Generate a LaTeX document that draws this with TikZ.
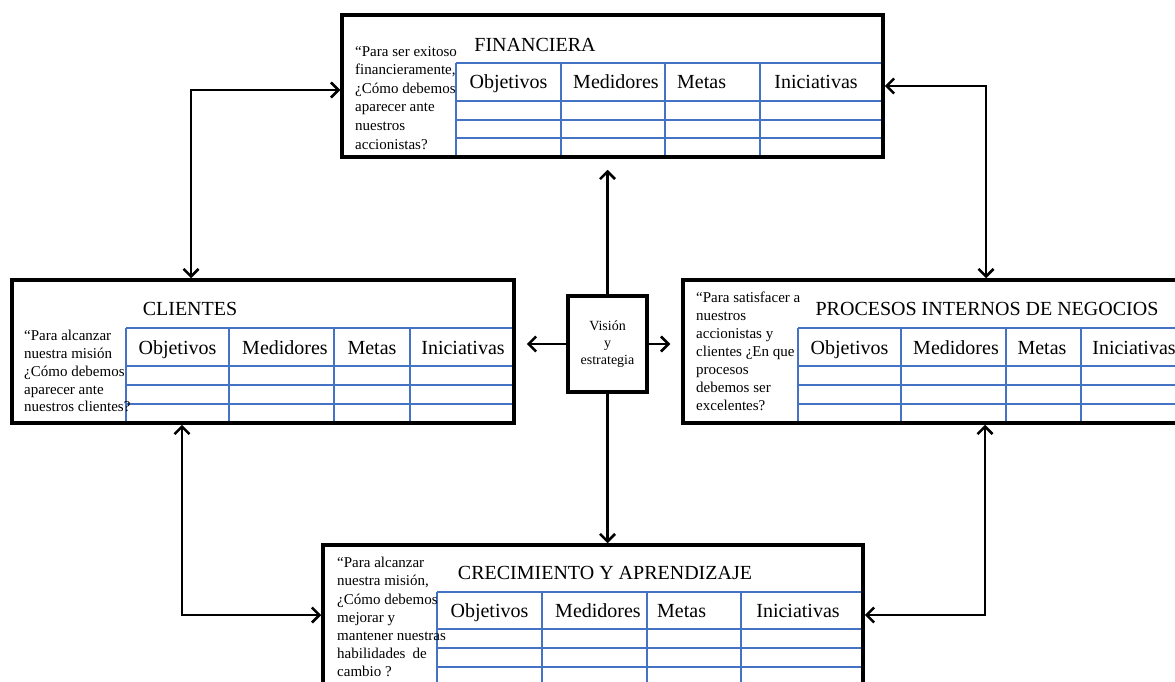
\documentclass[tikz,border=0pt]{standalone}
\usepackage{fontspec}
\setmainfont{Liberation Serif}
\usetikzlibrary{arrows.meta,backgrounds,calc}
\definecolor{tblue}{RGB}{68,114,196}
\begin{document}
\begin{tikzpicture}[x=1pt,y=-1pt,
  box/.style={draw, line width=3.5pt, inner sep=0pt},
  tline/.style={draw=tblue, line width=2pt},
  tip/.tip={Straight Barb[length=7.5pt,width=15pt]},
  conn/.style={line width=2.5pt, tip-tip},
  arr/.style={line width=2.5pt, -tip},
  hdr/.style={font=\fontsize{20}{24}\selectfont, inner sep=0pt, anchor=base},
  ttl/.style={font=\fontsize{20}{24}\selectfont, inner sep=0pt},
  qtext/.style={align=left, inner sep=0pt, anchor=north west}
]
\useasboundingbox (0,0) rectangle (1175,682);

% ---- boxes
\node[box, minimum width=541pt, minimum height=142pt] (F) at (612.5,86) {};
\node[box, minimum width=502pt, minimum height=143pt] (C) at (263,351.5) {};
\node[box, minimum width=502pt, minimum height=143pt] (P) at (934,351.5) {};
\node[box, minimum width=540pt, minimum height=150pt] (G) at (593,620) {};
\node[box, minimum width=79pt, minimum height=96pt, align=center,
      font=\fontsize{14}{17}\selectfont] (V) at (607.5,344) {Visión\\y\\estrategia};

% ---- tables (behind borders)
\begin{scope}[on background layer]
  % Financiera
  \draw[tline] (456,63) -- (883,63);
  \foreach \y in {101,120,138} \draw[tline] (456,\y) -- (883,\y);
  \foreach \x in {456,561,665,760} \draw[tline] (\x,63) -- (\x,157);
  % Clientes
  \draw[tline] (126,328) -- (514,328);
  \foreach \y in {366,385,404} \draw[tline] (126,\y) -- (514,\y);
  \foreach \x in {126,229,334,410} \draw[tline] (\x,328) -- (\x,423);
  % Procesos
  \draw[tline] (798,328) -- (1185,328);
  \foreach \y in {366,385,404} \draw[tline] (798,\y) -- (1185,\y);
  \foreach \x in {798,901,1006,1081} \draw[tline] (\x,328) -- (\x,423);
  % Crecimiento
  \draw[tline] (437,592) -- (863,592);
  \foreach \y in {629,648,667} \draw[tline] (437,\y) -- (863,\y);
  \foreach \x in {437,542,647,741} \draw[tline] (\x,592) -- (\x,695);
\end{scope}

% ---- Financiera texts
\node[ttl] (Ft) at (535,45) {FINANCIERA};
\node[qtext, font=\fontsize{15}{18.6}\selectfont] (Fq) at (355,46)
  {“Para ser exitoso\\financieramente,\\¿Cómo debemos\\aparecer ante\\nuestros\\accionistas?};
\node[hdr] (Fh1) at (508.5,89) {Objetivos};
\node[hdr] (Fh2) at (616,89) {Medidores};
\node[hdr, anchor=base west] (Fh3) at (677,89) {Metas};
\node[hdr] (Fh4) at (816,89) {Iniciativas};

% ---- Clientes texts
\node[ttl] (Ct) at (190,309) {CLIENTES};
\node[qtext, font=\fontsize{15}{17.8}\selectfont] (Cq) at (24,330)
  {“Para alcanzar\\nuestra misión\\¿Cómo debemos\\aparecer ante\\nuestros clientes?};
\node[hdr] (Ch1) at (177.5,354) {Objetivos};
\node[hdr] (Ch2) at (285,354) {Medidores};
\node[hdr] (Ch3) at (372,354) {Metas};
\node[hdr] (Ch4) at (463,354) {Iniciativas};

% ---- Procesos texts
\node[ttl] (Pt) at (987,309) {PROCESOS INTERNOS DE NEGOCIOS};
\node[qtext, font=\fontsize{15}{18}\selectfont] (Pq) at (696,292)
  {“Para satisfacer a\\nuestros\\accionistas y\\clientes ¿En que\\procesos\\debemos ser\\excelentes?};
\node[hdr] (Ph1) at (849.5,354) {Objetivos};
\node[hdr] (Ph2) at (956,354) {Medidores};
\node[hdr] (Ph3) at (1042,354) {Metas};
\node[hdr] (Ph4) at (1134,354) {Iniciativas};

% ---- Crecimiento texts
\node[ttl] (Gt) at (605,573) {CRECIMIENTO Y APRENDIZAJE};
\node[qtext, font=\fontsize{15}{18.2}\selectfont] (Gq) at (337,557)
  {“Para alcanzar\\nuestra misión,\\¿Cómo debemos\\mejorar y\\mantener nuestras\\habilidades\hspace{7pt}de\\cambio ?};
\node[hdr] (Gh1) at (489.5,617) {Objetivos};
\node[hdr] (Gh2) at (598,617) {Medidores};
\node[hdr, anchor=base west] (Gh3) at (657,617) {Metas};
\node[hdr] (Gh4) at (798,617) {Iniciativas};

% ---- connectors
\draw[conn] ([yshift=-4pt]F.west) -| ([xshift=-72pt]C.north);
\draw[conn] (F.east) -| ([xshift=52pt]P.north);
\draw[conn] ([xshift=-81pt]C.south) |- ([yshift=5pt]G.west);
\draw[conn] ([xshift=51pt]P.south) |- ([yshift=5pt]G.east);

\draw[arr, shorten >=11pt] (V.north) -- (V.north |- F.south);
\draw[arr] (V.south) -- (V.south |- G.north);
\draw[arr, shorten >=11pt] (V.west) -- (V.west -| C.east);
\draw[arr, shorten >=11pt] (V.east) -- (V.east -| P.west);
\end{tikzpicture}
\end{document}
